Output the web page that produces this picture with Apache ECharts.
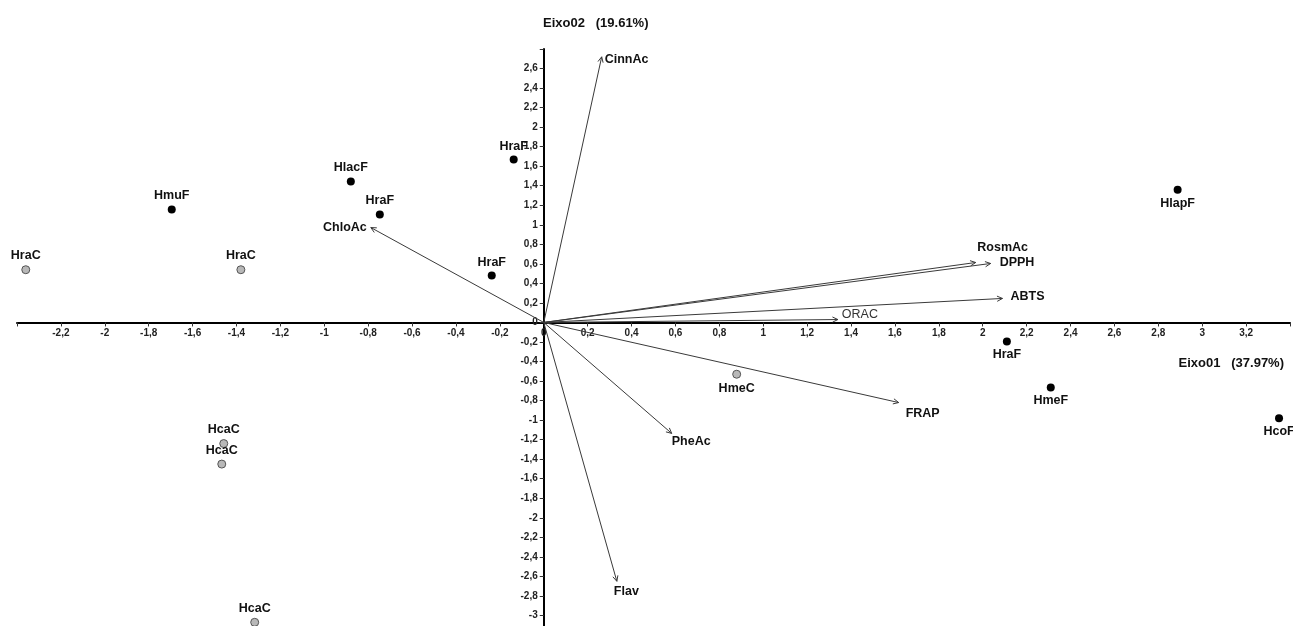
<!DOCTYPE html>
<html>
<head>
<meta charset="utf-8">
<script src="https://cdn.jsdelivr.net/npm/echarts@6/dist/echarts.min.js"></script>
<style>
html,body{margin:0;padding:0;background:#fff;}
#chart{width:1293px;height:626px;}
</style>
</head>
<body>
<div id="chart"></div>
<script>
// ---- Data ----
const obsNames = ['HraC','HmuF','HraC','HlacF','HraF','HraF','HraF','HlapF','HraF','HmeF','HcoF','HmeC','HcaC','HcaC','HcaC'];
const obsX = [-2.36,-1.695,-1.38,-0.879,-0.747,-0.237,-0.137,2.888,2.11,2.31,3.35,0.879,-1.458,-1.467,-1.317];
const obsY = [0.54,1.157,0.54,1.443,1.105,0.48,1.668,1.36,-0.194,-0.665,-0.98,-0.53,-1.24,-1.45,-3.07];
const obsGroup = ['C','F','C','F','F','F','F','F','F','F','F','C','C','C','C'];

const varNames = ['CinnAc','ChloAc','RosmAc','DPPH','ABTS','ORAC','FRAP','PheAc','Flav'];
const varX = [0.264,-0.788,1.968,2.036,2.09,1.34,1.617,0.583,0.333];
const varY = [2.72,0.972,0.614,0.604,0.246,0.03,-0.82,-1.136,-2.65];

const xTickLabels = ['-2,2','-2','-1,8','-1,6','-1,4','-1,2','-1','-0,8','-0,6','-0,4','-0,2','0','0,2','0,4','0,6','0,8','1','1,2','1,4','1,6','1,8','2','2,2','2,4','2,6','2,8','3','3,2'];
const yTickLabels = ['-3','-2,8','-2,6','-2,4','-2,2','-2','-1,8','-1,6','-1,4','-1,2','-1','-0,8','-0,6','-0,4','-0,2','0','0,2','0,4','0,6','0,8','1','1,2','1,4','1,6','1,8','2','2,2','2,4','2,6'];
const xAxisTitle = 'Eixo01   (37.97%)';
const yAxisTitle = 'Eixo02   (19.61%)';

// ---- Layout / styles ----
const X_MIN = -2.4, X_MAX = 3.4, Y_MIN = -3.2, Y_MAX = 2.8;
const G_LEFT = 17, G_RIGHT = 3, G_TOP = 49, G_BOTTOM = -9;
const W = 1293, H = 626;
const plotW = W - G_LEFT - G_RIGHT, plotH = H - G_TOP - G_BOTTOM;
// offsets that move the axes to cross at the origin
const yAxisOffset = -plotW * (0 - X_MIN) / (X_MAX - X_MIN);
const xAxisOffset = -plotH * (0 - Y_MIN) / (Y_MAX - Y_MIN);

const obsLabelSide = ['top','top','top','top','top','top','top','bottom','bottom','bottom','bottom','bottom','top','top','top'];
// [dx, dy, align] relative to arrow tip
const varLabelPlace = [
  [3, 3, 'left'], [-4, 0, 'right'], [27, -15, 'center'], [9, -1, 'left'], [8, -2, 'left'],
  [4, -5, 'left'], [7, 11, 'left'], [0, 8, 'left'], [-3, 10, 'left']
];

function fmt(labels) {
  return function (v) {
    const s = String(Math.round(v * 10) / 10).replace('.', ',');
    return labels.indexOf(s) >= 0 ? s : '';
  };
}

const labelFont = 'Liberation Sans';

function obsData(group) {
  const out = [];
  for (let i = 0; i < obsNames.length; i++) {
    if (obsGroup[i] !== group) continue;
    out.push({
      value: [obsX[i], obsY[i]],
      name: obsNames[i],
      label: { position: obsLabelSide[i] }
    });
  }
  return out;
}

const vecData = varNames.map((n, i) => [varX[i], varY[i], i]);

const chart = echarts.init(document.getElementById('chart'), null, { renderer: 'canvas' });
chart.setOption({
  animation: false,
  backgroundColor: '#ffffff',
  title: [
    { text: yAxisTitle, left: 538, top: 12, textStyle: { fontFamily: labelFont, fontSize: 13, fontWeight: 'bold', color: '#111' } },
    { text: xAxisTitle, right: 4, top: 352, textStyle: { fontFamily: labelFont, fontSize: 13, fontWeight: 'bold', color: '#111' } }
  ],
  grid: { left: G_LEFT, right: G_RIGHT, top: G_TOP, bottom: G_BOTTOM, containLabel: false, outerBoundsMode: 'none' },
  xAxis: {
    type: 'value', min: X_MIN, max: X_MAX, interval: 0.2,
    position: 'bottom', offset: xAxisOffset,
    splitLine: { show: false },
    axisLine: { onZero: false, lineStyle: { color: '#000', width: 2 } },
    axisTick: { show: true, length: 4, lineStyle: { color: '#333' } },
    axisLabel: { formatter: fmt(xTickLabels), margin: 6, fontFamily: labelFont, fontSize: 10, fontWeight: 'bold', color: '#222' }
  },
  yAxis: {
    type: 'value', min: Y_MIN, max: Y_MAX, interval: 0.2,
    position: 'left', offset: yAxisOffset,
    splitLine: { show: false },
    axisLine: { onZero: false, lineStyle: { color: '#000', width: 2 } },
    axisTick: { show: true, length: 4, lineStyle: { color: '#333' } },
    axisLabel: { formatter: fmt(yTickLabels), margin: 6, fontFamily: labelFont, fontSize: 10, fontWeight: 'bold', color: '#222' }
  },
  series: [
    {
      type: 'custom',
      renderItem: function (params, api) {
        const i = api.value(2);
        const p0 = api.coord([0, 0]);
        const p1 = api.coord([api.value(0), api.value(1)]);
        const ang = Math.atan2(p1[1] - p0[1], p1[0] - p0[0]);
        const L = 6, A = 0.45;
        const a1 = [p1[0] - L * Math.cos(ang - A), p1[1] - L * Math.sin(ang - A)];
        const a2 = [p1[0] - L * Math.cos(ang + A), p1[1] - L * Math.sin(ang + A)];
        const pl = varLabelPlace[i];
        const isOrac = varNames[i] === 'ORAC';
        return {
          type: 'group',
          children: [
            { type: 'line', shape: { x1: p0[0], y1: p0[1], x2: p1[0], y2: p1[1] }, style: { stroke: '#3a3a3a', lineWidth: 1 } },
            { type: 'polyline', shape: { points: [a1, p1, a2] }, style: { stroke: '#3a3a3a', lineWidth: 1, fill: null } },
            { type: 'text', style: {
                text: varNames[i], x: p1[0] + pl[0], y: p1[1] + pl[1],
                align: pl[2], verticalAlign: 'middle',
                fontFamily: labelFont, fontSize: 12.5, fontWeight: isOrac ? 'normal' : 'bold',
                fill: isOrac ? '#333' : '#111'
              } }
          ]
        };
      },
      data: vecData,
      z: 3
    },
    {
      type: 'scatter', name: 'F', symbol: 'circle', symbolSize: 8,
      itemStyle: { color: '#000', opacity: 1 },
      label: { show: true, formatter: '{b}', distance: 3, fontFamily: labelFont, fontSize: 12.5, fontWeight: 'bold', color: '#111', textBorderWidth: 0 },
      emphasis: { disabled: true },
      data: obsData('F'), z: 4
    },
    {
      type: 'scatter', name: 'C', symbol: 'circle', symbolSize: 8,
      itemStyle: { color: '#b8b8b8', borderColor: '#555', borderWidth: 1, opacity: 1 },
      label: { show: true, formatter: '{b}', distance: 3, fontFamily: labelFont, fontSize: 12.5, fontWeight: 'bold', color: '#111', textBorderWidth: 0 },
      emphasis: { disabled: true },
      data: obsData('C'), z: 4
    }
  ]
});
</script>
</body>
</html>
